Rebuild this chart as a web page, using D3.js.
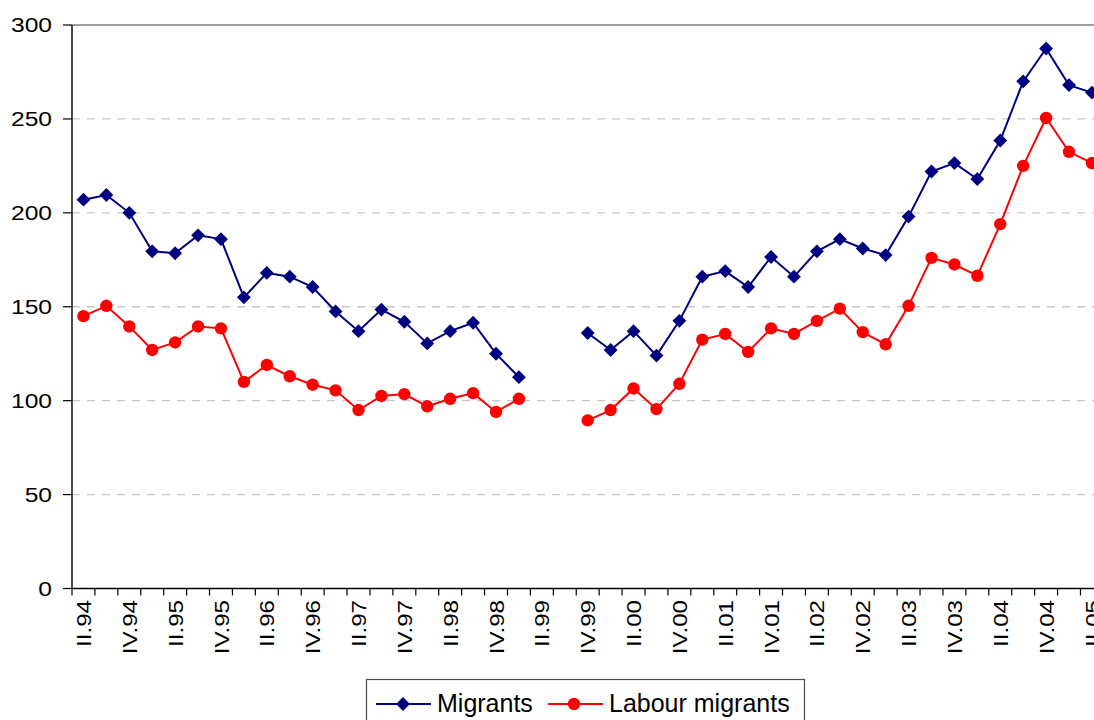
<!DOCTYPE html>
<html>
<head>
<meta charset="utf-8">
<script src="https://cdn.jsdelivr.net/npm/d3@7"></script>
<style>
  html, body { margin: 0; padding: 0; background: #fff; overflow: hidden; }
  text { font-family: "Liberation Sans", Arial, sans-serif; fill: #000; }
</style>
</head>
<body>
<div id="chart"></div>
<script>
// quarters, II.94 .. II.05
var quarters = ["II.94", "III.94", "IV.94", "I.95", "II.95", "III.95", "IV.95", "I.96", "II.96", "III.96",
    "IV.96", "I.97", "II.97", "III.97", "IV.97", "I.98", "II.98", "III.98", "IV.98", "I.99",
    "II.99", "III.99", "IV.99", "I.00", "II.00", "III.00", "IV.00", "I.01", "II.01", "III.01",
    "IV.01", "I.02", "II.02", "III.02", "IV.02", "I.03", "II.03", "III.03", "IV.03", "I.04",
    "II.04", "III.04", "IV.04", "I.05", "II.05"];

var migrants = [207, 209.5, 200, 179.5, 178.5, 188, 186, 155, 168, 166,
    160.5, 147.5, 137, 148.5, 142, 130.5, 137, 141.5, 125, 112.5,
    null, null, 136, 127, 137, 124, 142.5, 166, 169, 160.5,
    176.5, 166, 179.5, 186, 181, 177.5, 198, 222, 226.5, 218,
    238.5, 270, 287.5, 268, 264];

var labour = [145, 150.5, 139.5, 127, 131, 139.5, 138.5, 110, 119, 113,
    108.5, 105.5, 95, 102.5, 103.5, 97, 101, 104, 94, 101,
    null, null, 89.5, 95, 106.5, 95.5, 109, 132.5, 135.5, 126,
    138.5, 135.5, 142.5, 149, 136.5, 130, 150.5, 176, 172.5, 166.5,
    194, 225, 250.5, 232.5, 226.5];

var yTicks = [0, 50, 100, 150, 200, 250, 300];

var seriesNames = ["Migrants", "Labour migrants"];
var seriesColors = ["#000080", "#ff0000"];

var width = 1094, height = 720;
var plotLeft = 72, plotTop = 25, plotBottom = 588.5, bandW = 22.92;

var svg = d3.select("#chart").append("svg")
    .attr("width", width)
    .attr("height", height);

var x = d3.scaleBand().domain(quarters).range([plotLeft, plotLeft + bandW * quarters.length]);
var y = d3.scaleLinear().domain([0, 300]).range([plotBottom, plotTop]);

// gridlines
svg.append("g").selectAll("line")
    .data(yTicks.filter(function (d) { return d > 0 && d < 300; }))
    .enter().append("line")
    .attr("x1", plotLeft).attr("x2", width)
    .attr("y1", function (d) { return y(d); })
    .attr("y2", function (d) { return y(d); })
    .attr("stroke", "#c8c8c8")
    .attr("stroke-width", 1.3)
    .attr("stroke-dasharray", "8,7");

// top border
svg.append("line")
    .attr("x1", plotLeft).attr("x2", width)
    .attr("y1", y(300)).attr("y2", y(300))
    .attr("stroke", "#808080").attr("stroke-width", 1.6);

// y axis
svg.append("line")
    .attr("x1", plotLeft).attr("x2", plotLeft)
    .attr("y1", y(300)).attr("y2", y(0))
    .attr("stroke", "#000").attr("stroke-width", 1.4);

svg.append("g").selectAll("line")
    .data(yTicks)
    .enter().append("line")
    .attr("x1", plotLeft - 9).attr("x2", plotLeft)
    .attr("y1", function (d) { return y(d); })
    .attr("y2", function (d) { return y(d); })
    .attr("stroke", "#000").attr("stroke-width", 1.2);

svg.append("g").selectAll("text")
    .data(yTicks)
    .enter().append("text")
    .attr("transform", function (d) { return "translate(52," + y(d) + ") scale(1.2,1)"; })
    .attr("dy", "0.36em")
    .attr("text-anchor", "end")
    .attr("font-size", "20.5px")
    .text(function (d) { return d; });

// x axis
svg.append("line")
    .attr("x1", plotLeft).attr("x2", width)
    .attr("y1", y(0)).attr("y2", y(0))
    .attr("stroke", "#000").attr("stroke-width", 1.4);

svg.append("g").selectAll("line")
    .data(d3.range(quarters.length + 1))
    .enter().append("line")
    .attr("x1", function (i) { return plotLeft + i * x.step(); })
    .attr("x2", function (i) { return plotLeft + i * x.step(); })
    .attr("y1", y(0)).attr("y2", y(0) + 7)
    .attr("stroke", "#000").attr("stroke-width", 1.2);

svg.append("g").selectAll("text")
    .data(quarters.filter(function (d, i) { return i % 2 == 0; }))
    .enter().append("text")
    .attr("transform", function (d) {
        return "translate(" + (x(d) + x.bandwidth() / 2) + ",600) rotate(-90) scale(1.15,1)";
    })
    .attr("dy", "0.36em")
    .attr("text-anchor", "end")
    .attr("font-size", "21px")
    .text(function (d) { return d; });

// series
var series = [migrants, labour];
var cx = function (i) { return x(quarters[i]) + x.bandwidth() / 2; };

var line = d3.line()
    .defined(function (d) { return d != null; })
    .x(function (d, i) { return cx(i); })
    .y(function (d) { return y(d); });

series.forEach(function (vals, s) {
    svg.append("path")
        .datum(vals)
        .attr("fill", "none")
        .attr("stroke", seriesColors[s])
        .attr("stroke-width", 2)
        .attr("d", line);
});

var pts = function (vals) {
    return vals.map(function (v, i) { return { i: i, v: v }; }).filter(function (d) { return d.v != null; });
};

var diamond = d3.symbol().type(d3.symbolSquare).size(96);

svg.append("g").selectAll("path")
    .data(pts(migrants))
    .enter().append("path")
    .attr("d", diamond)
    .attr("transform", function (d) { return "translate(" + cx(d.i) + "," + y(d.v) + ") rotate(45)"; })
    .attr("fill", seriesColors[0]);

svg.append("g").selectAll("circle")
    .data(pts(labour))
    .enter().append("circle")
    .attr("cx", function (d) { return cx(d.i); })
    .attr("cy", function (d) { return y(d.v); })
    .attr("r", 6.2)
    .attr("fill", seriesColors[1]);

// legend
var legend = svg.append("g");
legend.append("rect")
    .attr("x", 366.5).attr("y", 679.5)
    .attr("width", 438).attr("height", 60)
    .attr("fill", "#fff")
    .attr("stroke", "#4d4d4d").attr("stroke-width", 1.2);

var legX = [376, 548];
var legText = [437, 609];
seriesNames.forEach(function (name, s) {
    legend.append("line")
        .attr("x1", legX[s]).attr("x2", legX[s] + 55)
        .attr("y1", 704).attr("y2", 704)
        .attr("stroke", seriesColors[s]).attr("stroke-width", 2);
    if (s == 0) {
        legend.append("path")
            .attr("d", diamond)
            .attr("transform", "translate(" + (legX[s] + 27) + ",704) rotate(45)")
            .attr("fill", seriesColors[s]);
    } else {
        legend.append("circle")
            .attr("cx", legX[s] + 26).attr("cy", 704).attr("r", 6.2)
            .attr("fill", seriesColors[s]);
    }
    legend.append("text")
        .attr("x", legText[s]).attr("y", 712)
        .attr("font-size", "25px")
        .text(name);
});
</script>
</body>
</html>
